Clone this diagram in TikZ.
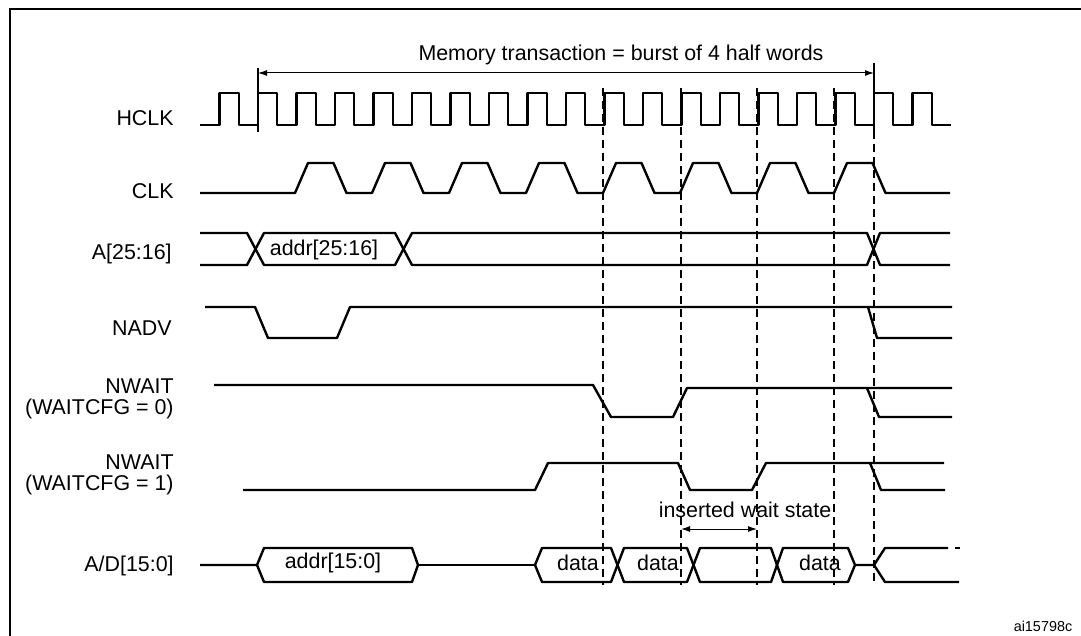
\documentclass[tikz,border=0pt]{standalone}
\usepackage{fontspec}
\setmainfont{Liberation Sans}
\usetikzlibrary{arrows,arrows.meta,positioning}
\tikzstyle{sig} = [line width=1.2pt, line join=round]
\tikzstyle{edgeline} = [line width=0.6pt, dash pattern=on 4pt off 2.5pt]
\tikzstyle{marker} = [line width=0.6pt]
\tikzstyle{spanarrow} = [line width=0.5pt, {Latex[length=4.5pt,width=3pt]}-{Latex[length=4.5pt,width=3pt]}]
\tikzstyle{signame} = [anchor=east, inner sep=0pt, align=right, font=\fontsize{10.7}{10.2}\selectfont]
\tikzstyle{busval} = [inner sep=0pt, font=\fontsize{10.7}{12}\selectfont]

\begin{document}
\begin{tikzpicture}[x=0.5pt, y=-0.5pt]
\useasboundingbox (0,0) rectangle (1081,636);
% frame
\draw[line width=1pt] (10,636) -- (10,9.5) -- (1081,9.5);

% signal names
\node[signame] (hclk) at (174,118) {HCLK};
\node[signame] (clk) at (174,191) {CLK};
\node[signame] (ahigh) at (172,254) {A[25:16]};
\node[signame] (nadv) at (172,328) {NADV};
\node[signame] (nwaitzero) at (174,399) {NWAIT\\(WAITCFG = 0)};
\node[signame] (nwaitone) at (174,475) {NWAIT\\(WAITCFG = 1)};
\node[signame] (adlow) at (174,566) {A/D[15:0]};

% transaction span
\coordinate (tstart) at (258,73);
\coordinate (tend) at (874,73);
\draw[marker] (258,68) -- (258,132);
\draw[marker] (874,63) -- (874,131);
\draw[spanarrow] (tstart) -- (tend);
\node[busval] (trans) at (621,55) {Memory transaction = burst of 4 half words};

% clock edges
\foreach \x in {603,681,757,834}
  \draw[edgeline] (\x,88) -- (\x,585);
\draw[edgeline] (874,131) -- (874,585);

% HCLK
\draw[sig] (200,125) -- (219.5,125)
  \foreach \k in {0,...,18} { -- ++(0,-32) -- ++(19.25,0) -- ++(0,32) -- ++(19.25,0) };

% CLK
\draw[sig] (200,193) -- (295,193)
  \foreach \k in {1,...,8} { -- ++(13,-30) -- ++(25.5,0) -- ++(13,30) -- ++(25.5,0) } -- (950,193);

% A[25:16]
\draw[sig] (200,233) -- (247,233) -- (264,265) -- (395,265) -- (412,233) -- (867,233) -- (880,265) -- (950,265);
\draw[sig] (200,265) -- (247,265) -- (264,233) -- (395,233) -- (412,265) -- (867,265) -- (880,233) -- (950,233);
\node[busval] (ahighval) at (324,250) {addr[25:16]};

% NADV
\draw[sig] (205,307) -- (255,307) -- (268,338) -- (337,338) -- (350,307) -- (952,307);
\draw[sig] (868,307) -- (877,338) -- (952,338);

% NWAIT, WAITCFG = 0
\draw[sig] (214,385) -- (593,385) -- (611,417) -- (673,417) -- (687,388) -- (952,388);
\draw[sig] (867,388) -- (879,417) -- (952,417);

% NWAIT, WAITCFG = 1
\draw[sig] (243,490) -- (535,490) -- (548,463) -- (678,463) -- (690,490) -- (752,490) -- (766,463) -- (944,463);
\draw[sig] (870,463) -- (881,490) -- (945,490);

% wait state span
\coordinate (wstart) at (681,529);
\coordinate (wend) at (757,529);
\draw[spanarrow] (wstart) -- (wend);
\node[busval] (wait) at (745,510) {inserted wait state};

% A/D[15:0]
\draw[sig] (200,565) -- (257,565) -- (264,548) -- (412,548) -- (418,565) -- (412,582) -- (264,582) -- (257,565);
\draw[sig] (418,565) -- (535,565);
\draw[sig] (535,565) -- (542,548) -- (611,548) -- (624,582) -- (687,582) -- (700,548) -- (771,548) -- (783,582) -- (848,582) -- (855,565);
\draw[sig] (535,565) -- (542,582) -- (611,582) -- (624,548) -- (687,548) -- (700,582) -- (771,582) -- (783,548) -- (848,548) -- (855,565);
\draw[sig] (855,565) -- (874,565) -- (885,548) -- (948,548);
\draw[sig] (874,565) -- (885,582) -- (959,582);
\draw[sig] (955,548) -- (960,548);
\node[busval] (adlowval) at (333,563) {addr[15:0]};
\node[busval] (dataone) at (578,563) {data};
\node[busval] (datatwo) at (658,563) {data};
\node[busval] (datafour) at (820,563) {data};

\node[inner sep=0pt, font=\fontsize{7.2}{8}\selectfont] (figid) at (1043,626) {ai15798c};
\end{tikzpicture}
\end{document}
